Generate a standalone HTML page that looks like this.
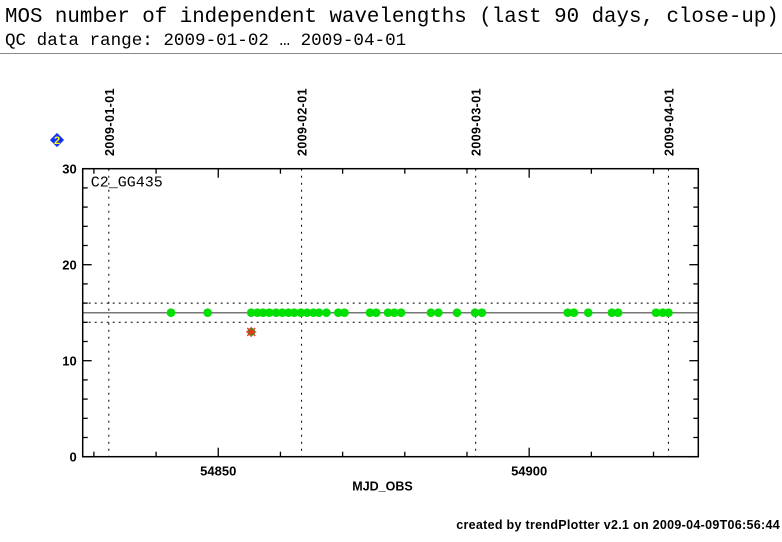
<!DOCTYPE html>
<html><head><meta charset="utf-8"><style>
body{margin:0;background:#fff;width:782px;height:542px;overflow:hidden;position:relative;font-family:"Liberation Sans",sans-serif}
.t{position:absolute;font-family:"Liberation Mono",monospace;color:#000;white-space:nowrap}
</style></head><body>
<div class="t" style="left:5px;top:6px;font-size:20.8px;line-height:24px">MOS number of independent wavelengths (last 90 days, close-up)</div>
<div class="t" style="left:5px;top:31px;font-size:17.6px;line-height:20px">QC data range: 2009-01-02 … 2009-04-01</div>
<div style="position:absolute;left:0;top:53px;width:782px;height:1px;background:#888"></div>
<svg id="chart" width="782" height="542" style="position:absolute;left:0;top:0"></svg>
<div style="position:absolute;right:2px;top:518px;font-size:12.5px;font-weight:bold;letter-spacing:0.3px;white-space:nowrap">created by trendPlotter v2.1 on 2009-04-09T06:56:44</div>
<script>
const xTicks=[54850,54900];
const xMinor=[54830,54840,54860,54870,54880,54890,54910,54920];
const yTicks=[0,10,20,30];
const dateLines=[54832.4,54863.4,54891.4,54922.4];
const dateLabels=["2009-01-01","2009-02-01","2009-03-01","2009-04-01"];
const mjd=[54842.4,54848.3,54855.3,54856.3,54857.2,54858.2,54859.3,54860.3,54861.3,54862.2,54863.3,54864.3,54865.3,54866.2,54867.4,54869.3,54870.3,54874.4,54875.4,54877.3,54878.3,54879.4,54884.2,54885.4,54888.4,54891.3,54892.4,54906.2,54907.2,54909.5,54913.3,54914.3,54920.4,54921.5,54922.4];
const vals=[15,15,15,15,15,15,15,15,15,15,15,15,15,15,15,15,15,15,15,15,15,15,15,15,15,15,15,15,15,15,15,15,15,15,15];
const outMjd=[54855.3];
const outVals=[13];
const meanVal=15, lowVal=14, highVal=16;
const X0=82.7,X1=698.3,Y0=456.7,Y1=168.7;
const xMin=54828.2,xMax=54927.2,yMin=0,yMax=30;
const sx=v=>X0+(v-xMin)/(xMax-xMin)*(X1-X0);
const sy=v=>Y0-(v-yMin)/(yMax-yMin)*(Y0-Y1);
const svg=document.getElementById('chart');
const NS='http://www.w3.org/2000/svg';
function mk(t,a){const e=document.createElementNS(NS,t);for(const k in a)e.setAttribute(k,a[k]);svg.appendChild(e);return e;}
dateLines.forEach((d,i)=>{
 const l=mk('line',{x1:sx(d),x2:sx(d),y1:Y1,y2:Y0,stroke:'#000','stroke-width':1,'stroke-dasharray':'2,5'});
 
 
 const t=mk('text',{x:0,y:0,transform:`translate(${sx(d)+5},${156}) rotate(-90)`,'font-size':12.5,'font-weight':'bold','letter-spacing':'0.4','font-family':'Liberation Sans, sans-serif'});
 t.textContent=dateLabels[i];
 
 
});
[lowVal,highVal].forEach(v=>{
 const l=mk('line',{x1:X0,x2:X1,y1:sy(v),y2:sy(v),stroke:'#000','stroke-width':1,'stroke-dasharray':'2,4'});
 
 
});
const ml=mk('line',{x1:X0,x2:X1,y1:sy(meanVal),y2:sy(meanVal),stroke:'#777','stroke-width':1.5});


const fr=mk('rect',{x:X0,y:Y1,width:X1-X0,height:Y0-Y1,fill:'none',stroke:'#000','stroke-width':1.5});


xTicks.forEach(v=>{
 mk('line',{x1:sx(v),x2:sx(v),y1:Y0,y2:Y0-9,stroke:'#000','stroke-width':1.3});
 mk('line',{x1:sx(v),x2:sx(v),y1:Y1,y2:Y1+9,stroke:'#000','stroke-width':1.3});
 const t=mk('text',{x:sx(v),y:Y0+19,'text-anchor':'middle','font-size':13,'font-weight':'bold'});
 t.textContent=v;
 
 
});
xMinor.forEach(v=>{
 mk('line',{x1:sx(v),x2:sx(v),y1:Y0,y2:Y0-5,stroke:'#000','stroke-width':1.3});
 mk('line',{x1:sx(v),x2:sx(v),y1:Y1,y2:Y1+5,stroke:'#000','stroke-width':1.3});
});
for(let v=0;v<=30;v+=2){
 const len=v%10===0?9:5;
 mk('line',{x1:X0,x2:X0+len,y1:sy(v),y2:sy(v),stroke:'#000','stroke-width':1.3});
 mk('line',{x1:X1,x2:X1-len,y1:sy(v),y2:sy(v),stroke:'#000','stroke-width':1.3});
}
yTicks.forEach(v=>{
 const t=mk('text',{x:X0-6,y:sy(v)+5,'text-anchor':'end','font-size':13,'font-weight':'bold'});
 t.textContent=v;
 
 
});
const xt=mk('text',{x:(X0+X1)/2-8,y:Y0+34,'text-anchor':'middle','font-size':12.5,'font-weight':'bold'});
xt.textContent='MJD_OBS';


const lab=mk('text',{x:X0+8,y:Y1+18,'font-size':15,'font-family':'Liberation Mono, monospace'});
lab.textContent='C2_GG435';


mjd.forEach((d,i)=>{
 const c=mk('circle',{cx:sx(d),cy:sy(vals[i]),r:4.3,fill:'#00e000'});
 
 
});
outMjd.forEach((d,i)=>{
 const x=sx(d),y=sy(outVals[i]);
 const c=mk('circle',{cx:x,cy:y,r:4,fill:'#3a9a20'});
 
 
 mk('path',{d:`M${x-4},${y-4}L${x+4},${y+4}M${x+4},${y-4}L${x-4},${y+4}M${x},${y-5}L${x},${y+5}M${x-5},${y}L${x+5},${y}`,stroke:'#f03020','stroke-width':1.3});
});
const g=document.createElementNS(NS,'g');svg.appendChild(g);


const b=document.createElementNS(NS,'rect');
b.setAttribute('x',52);b.setAttribute('y',135);b.setAttribute('width',10);b.setAttribute('height',10);
b.setAttribute('fill','#1030ff');b.setAttribute('transform','rotate(45 57 140)');g.appendChild(b);
const bt=document.createElementNS(NS,'text');
bt.setAttribute('x',57);bt.setAttribute('y',144);bt.setAttribute('text-anchor','middle');bt.setAttribute('font-size',11);bt.setAttribute('font-weight','bold');bt.setAttribute('fill','#ffff00');
bt.textContent='2';g.appendChild(bt);
</script>
</body></html>
